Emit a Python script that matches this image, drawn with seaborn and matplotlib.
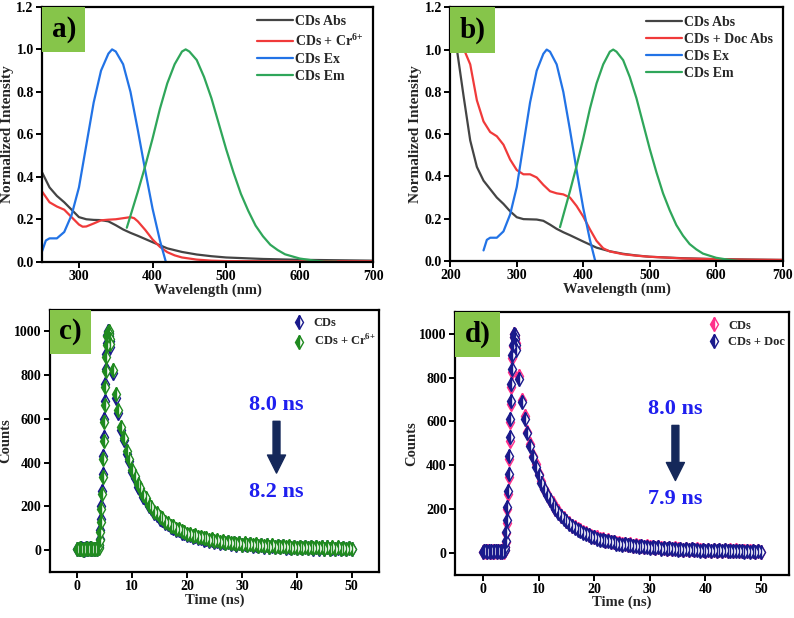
import numpy as np
import matplotlib
matplotlib.use("Agg")
import matplotlib.pyplot as plt
import seaborn as sns
from matplotlib.lines import Line2D
from matplotlib.patches import Rectangle

sns.set_style("ticks")
plt.rcParams['font.family'] = ['Liberation Serif', 'DejaVu Serif']
plt.rcParams['font.weight'] = 'bold'
plt.rcParams['axes.labelweight'] = 'bold'
plt.rcParams['mathtext.fontset'] = 'custom'
plt.rcParams['mathtext.rm'] = 'Liberation Serif:bold'
plt.rcParams['mathtext.bf'] = 'Liberation Serif:bold'

# ---- spectra (panel a / b) ----
wl_abs_a = [250, 260, 270, 280, 290, 300, 310, 320, 330, 340, 350, 360, 370, 380, 390, 400,
            420, 440, 460, 480, 500, 550, 600, 650, 700]
abs_cds_a = [0.42, 0.35, 0.31, 0.28, 0.245, 0.21, 0.2, 0.197, 0.196, 0.19, 0.172, 0.152, 0.136,
             0.122, 0.107, 0.092, 0.063, 0.046, 0.034, 0.026, 0.02, 0.013, 0.009, 0.007, 0.005]

wl_cr = [250, 260, 270, 280, 290, 300, 305, 310, 320, 330, 340, 350, 360, 370, 375, 380, 390,
         400, 410, 420, 430, 440, 460, 480, 500, 600, 700]
abs_cds_cr = [0.33, 0.28, 0.26, 0.245, 0.21, 0.175, 0.165, 0.166, 0.18, 0.195, 0.198, 0.2, 0.205,
              0.21, 0.205, 0.19, 0.15, 0.105, 0.07, 0.045, 0.03, 0.02, 0.01, 0.005, 0.003, 0.002, 0.002]

wl_abs_b = [210, 220, 230, 240, 250, 260, 270, 280, 290, 300, 310, 320, 330, 340, 350, 360, 370,
            380, 390, 400, 420, 440, 460, 480, 500, 550, 600, 650, 700]
abs_cds_b = [1.0, 0.78, 0.57, 0.445, 0.38, 0.34, 0.3, 0.27, 0.235, 0.207, 0.198, 0.197, 0.196,
             0.19, 0.172, 0.152, 0.136, 0.122, 0.107, 0.092, 0.063, 0.046, 0.034, 0.026, 0.02,
             0.013, 0.009, 0.007, 0.005]

wl_doc = [200, 210, 222, 230, 240, 250, 260, 270, 280, 290, 300, 310, 320, 330, 340, 350, 360,
          370, 380, 390, 400, 410, 420, 430, 440, 460, 480, 500, 550, 600, 650, 700]
abs_cds_doc = [1.0, 1.0, 0.99, 0.93, 0.76, 0.66, 0.61, 0.59, 0.55, 0.48, 0.43, 0.41, 0.41, 0.395,
               0.36, 0.33, 0.32, 0.315, 0.3, 0.26, 0.21, 0.15, 0.095, 0.06, 0.045, 0.032, 0.025,
               0.02, 0.012, 0.008, 0.006, 0.005]

wl_ex = [250, 255, 260, 270, 280, 290, 300, 310, 320, 330, 340, 345, 350, 360, 370, 380, 390,
         400, 410, 418]
ex_cds = [0.05, 0.1, 0.11, 0.11, 0.14, 0.22, 0.35, 0.55, 0.75, 0.9, 0.98, 1.0, 0.99, 0.93, 0.8,
          0.62, 0.43, 0.25, 0.1, 0.0]

wl_em = [365, 380, 390, 400, 410, 420, 430, 440, 445, 450, 460, 470, 480, 490, 500, 510, 520,
         530, 540, 550, 560, 570, 580, 600, 620, 635, 650]
em_cds = [0.16, 0.33, 0.45, 0.58, 0.72, 0.84, 0.93, 0.99, 1.0, 0.99, 0.95, 0.87, 0.77, 0.65, 0.53,
          0.42, 0.32, 0.24, 0.17, 0.12, 0.08, 0.055, 0.035, 0.015, 0.005, 0.0, 0.0]

# ---- TCSPC decays (panel c / d) ----
t_base = [0, 0.25, 0.5, 0.75, 1, 1.25, 1.5, 1.75, 2, 2.25, 2.5, 2.75, 3, 3.25, 3.5, 3.75]
t_rise = [3.9, 4.0, 4.1, 4.2, 4.3, 4.4, 4.5, 4.6, 4.7, 4.8, 4.9, 5.0, 5.1, 5.2, 5.3, 5.4, 5.5,
          5.6, 5.7, 5.8, 5.9, 6.0]
t_fall = [6.5, 7, 7.5, 8, 8.5, 9, 9.5, 10, 10.5, 11, 11.5, 12, 12.5, 13, 13.5, 14, 14.5, 15,
          15.5, 16, 16.5, 17, 17.5, 18, 18.5, 19, 19.5, 20]
t_tail = [20.5, 21, 21.5, 22, 22.5, 23, 23.5, 24, 24.5, 25, 25.5, 26, 26.5, 27, 27.5, 28, 28.5,
          29, 29.5, 30, 30.5, 31, 31.5, 32, 32.5, 33, 33.5, 34, 34.5, 35, 35.5, 36, 36.5, 37,
          37.5, 38, 38.5, 39, 39.5, 40, 40.5, 41, 41.5, 42, 42.5, 43, 43.5, 44, 44.5, 45, 45.5,
          46, 46.5, 47, 47.5, 48, 48.5, 49, 49.5, 50]
t_ns = t_base + t_rise + t_fall + t_tail

# c) CDs
cds_c_base = [4, 7, 3, 9, 5, 2, 8, 6, 3, 10, 5, 4, 7, 3, 6, 9]
cds_c_rise = [12, 25, 50, 90, 140, 200, 270, 350, 430, 515, 600, 680, 760, 830, 895, 945, 985,
              1000, 995, 980, 955, 930]
cds_c_fall = [812, 694, 628, 549, 502, 440, 407, 355, 331, 290, 273, 241, 228, 200, 191, 168,
              162, 143, 138, 122, 119, 105, 103, 92, 90, 80, 79, 70]
cds_c_tail = [71, 61, 64, 54, 57, 48, 52, 43, 46, 38, 42, 34, 39, 31, 35, 28, 32, 25, 30, 23,
              28, 21, 26, 19, 24, 17, 22, 15, 21, 14, 19, 13, 18, 12, 17, 11, 16, 10, 15, 9,
              15, 8, 14, 8, 13, 7, 13, 7, 12, 6, 12, 6, 11, 5, 11, 5, 11, 4, 10, 4]
# c) CDs + Cr6+
cr_c_base = [6, 3, 8, 5, 2, 7, 4, 9, 5, 3, 8, 6, 4, 7, 5, 8]
cr_c_rise = [10, 22, 45, 82, 130, 188, 255, 335, 415, 500, 585, 665, 745, 818, 885, 938, 980,
             998, 1000, 988, 965, 942]
cr_c_fall = [825, 712, 640, 565, 512, 455, 418, 368, 340, 302, 283, 250, 236, 208, 199, 175,
             170, 150, 145, 128, 125, 111, 108, 98, 96, 86, 84, 75]
cr_c_tail = [74, 66, 68, 59, 60, 53, 55, 48, 49, 42, 45, 38, 41, 34, 37, 31, 34, 28, 32, 25,
             30, 23, 28, 21, 26, 19, 24, 17, 22, 16, 21, 14, 19, 13, 18, 12, 17, 11, 16, 10,
             16, 9, 15, 9, 14, 8, 14, 8, 13, 7, 13, 7, 12, 6, 12, 6, 11, 5, 11, 5]
# d) CDs
cds_d_base = [5, 8, 3, 6, 9, 4, 2, 7, 5, 8, 3, 6, 9, 4, 7, 5]
cds_d_rise = [11, 24, 48, 88, 138, 198, 268, 348, 428, 512, 598, 678, 758, 828, 892, 944, 984,
              1000, 996, 982, 958, 934]
cds_d_fall = [806, 698, 624, 552, 498, 443, 404, 358, 328, 293, 270, 243, 226, 202, 189, 170,
              160, 145, 137, 124, 118, 107, 102, 93, 89, 81, 78, 71]
cds_d_tail = [70, 62, 63, 55, 56, 49, 51, 44, 45, 39, 41, 35, 38, 32, 34, 29, 31, 26, 29, 24,
              27, 22, 25, 20, 23, 18, 21, 16, 20, 15, 18, 14, 17, 13, 16, 12, 15, 11, 14, 10,
              14, 9, 13, 9, 12, 8, 12, 8, 11, 7, 11, 7, 10, 6, 10, 6, 10, 5, 9, 5]
# d) CDs + Doc
doc_d_base = [4, 6, 9, 3, 7, 5, 8, 2, 6, 9, 4, 7, 3, 8, 5, 6]
doc_d_rise = [14, 28, 55, 96, 148, 210, 282, 362, 442, 528, 612, 692, 770, 840, 902, 950, 988,
              1000, 993, 976, 950, 925]
doc_d_fall = [792, 690, 610, 548, 486, 438, 392, 355, 318, 290, 262, 241, 218, 200, 182, 169,
              154, 143, 131, 122, 113, 106, 98, 92, 85, 80, 74, 70]
doc_d_tail = [65, 60, 58, 53, 52, 47, 47, 42, 42, 37, 39, 34, 35, 31, 32, 28, 29, 25, 27, 23,
              26, 21, 24, 19, 22, 17, 20, 15, 19, 14, 17, 13, 16, 12, 15, 11, 14, 10, 13, 9,
              13, 8, 12, 8, 11, 7, 11, 7, 10, 6, 10, 6, 10, 5, 9, 5, 9, 4, 9, 4]

cnt_cds_c = cds_c_base + cds_c_rise + cds_c_fall + cds_c_tail
cnt_cr_c = cr_c_base + cr_c_rise + cr_c_fall + cr_c_tail
cnt_cds_d = cds_d_base + cds_d_rise + cds_d_fall + cds_d_tail
cnt_doc_d = doc_d_base + doc_d_rise + doc_d_fall + doc_d_tail

c_gray = '#444444'
c_red = '#f03a3a'
c_blue = '#2273e6'
c_green = '#2fa65a'
c_navy = '#1a1a8c'
c_dgreen = '#1f8a1f'
c_pink = '#ff2f8a'
c_arrow = '#15285a'
c_box = '#86c54a'
c_txt = '#1f1fef'

fig = plt.figure(figsize=(7.94, 6.18), dpi=100)
ax_a = fig.add_axes([0.0531, 0.5765, 0.4171, 0.4123])
ax_b = fig.add_axes([0.5671, 0.5777, 0.4187, 0.4105])
ax_c = fig.add_axes([0.0628, 0.0746, 0.4147, 0.4244])
ax_d = fig.add_axes([0.5733, 0.0702, 0.4202, 0.4248])


def style_axes(ax):
    for s in ax.spines.values():
        s.set_linewidth(1.6)
        s.set_color('black')
    ax.tick_params(direction='out', length=4, width=1.4, labelsize=10, pad=2, colors='black')
    for lab in ax.get_xticklabels() + ax.get_yticklabels():
        lab.set_fontweight('bold')


def add_tag(ax, tag, w, h):
    ax.add_patch(Rectangle((0, 1 - h), w, h, transform=ax.transAxes, facecolor=c_box,
                           edgecolor='none', zorder=5, clip_on=False))
    ax.text(w / 2, 1 - h / 2, tag, transform=ax.transAxes, ha='center', va='center',
            fontsize=21, fontweight='bold', color='black', zorder=6)


def spectra(ax, wl_abs, abs_cds, wl2, abs2, label2, xlim, xticks):
    sns.lineplot(x=wl_abs, y=abs_cds, ax=ax, color=c_gray, lw=1.6, label='CDs Abs', sort=False)
    sns.lineplot(x=wl2, y=abs2, ax=ax, color=c_red, lw=1.6, label=label2, sort=False)
    sns.lineplot(x=wl_ex, y=ex_cds, ax=ax, color=c_blue, lw=1.6, label='CDs Ex', sort=False)
    sns.lineplot(x=wl_em, y=em_cds, ax=ax, color=c_green, lw=1.6, label='CDs Em', sort=False)
    ax.set_xlim(*xlim)
    ax.set_ylim(0, 1.2)
    ax.set_xticks(xticks)
    ax.set_yticks([0, 0.2, 0.4, 0.6, 0.8, 1.0, 1.2])
    ax.set_yticklabels(['0.0', '0.2', '0.4', '0.6', '0.8', '1.0', '1.2'])
    ax.set_xlabel('Wavelength (nm)', fontsize=10.5, labelpad=0)
    ax.set_ylabel('Normalized Intensity', fontsize=11, labelpad=2)
    ax.legend(loc='upper right', bbox_to_anchor=(0.984, 0.984), frameon=False,
              handlelength=2.6, handletextpad=0.15, labelspacing=0.3, borderaxespad=0.2,
              borderpad=0.1, prop={'weight': 'bold', 'size': 10})
    style_axes(ax)


def decay(ax, s1, col1, lab1, s2, col2, lab2, lt1, lt2):
    for y, col in ((s1, col1), (s2, col2)):
        sns.lineplot(x=t_ns, y=y, ax=ax, color=col, linestyle='', marker='d', markersize=7,
                     fillstyle='left', markerfacecoloralt='white', markeredgewidth=1.0,
                     markeredgecolor=col, sort=False)
    ax.set_xlim(-5, 55)
    ax.set_ylim(-100, 1100)
    ax.set_xticks([0, 10, 20, 30, 40, 50])
    ax.set_yticks([0, 200, 400, 600, 800, 1000])
    ax.set_xlabel('Time (ns)', fontsize=10.5, labelpad=0)
    ax.set_ylabel('Counts', fontsize=10.5, labelpad=1)
    handles = [Line2D([], [], color=c, linestyle='', marker='d', markersize=7, fillstyle='left',
                      markerfacecoloralt='white', markeredgecolor=c) for c in (col1, col2)]
    ax.legend(handles, [lab1, lab2], loc='upper right', bbox_to_anchor=(1.0, 0.985),
              frameon=False, prop={'weight': 'bold', 'size': 9}, handlelength=1.2,
              handletextpad=0.55, labelspacing=0.35, borderaxespad=0.1, borderpad=0.2)
    ax.text(lt1[0], lt1[1], lt1[2], fontsize=16, fontweight='bold', color=c_txt,
            ha='center', va='center')
    ax.text(lt2[0], lt2[1], lt2[2], fontsize=16, fontweight='bold', color=c_txt,
            ha='center', va='center')
    ax.annotate('', xy=(lt1[0], lt2[1] + 85), xytext=(lt1[0], lt1[1] - 75),
                arrowprops=dict(facecolor=c_arrow, edgecolor=c_arrow, width=5, headwidth=13,
                                headlength=13))
    style_axes(ax)


spectra(ax_a, wl_abs_a, abs_cds_a, wl_cr, abs_cds_cr, r'CDs + Cr$^{6{+}}$', (250, 700),
        [300, 400, 500, 600, 700])
spectra(ax_b, wl_abs_b, abs_cds_b, wl_doc, abs_cds_doc, 'CDs + Doc Abs', (200, 700),
        [200, 300, 400, 500, 600, 700])
add_tag(ax_a, 'a)', 0.13, 0.176)
add_tag(ax_b, 'b)', 0.135, 0.18)

decay(ax_c, cnt_cds_c, c_navy, 'CDs', cnt_cr_c, c_dgreen, r'CDs + Cr$^{6{+}}$',
      (36.3, 664, '8.0 ns'), (36.3, 267, '8.2 ns'))
decay(ax_d, cnt_cds_d, c_pink, 'CDs', cnt_doc_d, c_navy, 'CDs + Doc',
      (34.6, 657, '8.0 ns'), (34.6, 245, '7.9 ns'))
add_tag(ax_c, 'c)', 0.125, 0.17)
add_tag(ax_d, 'd)', 0.135, 0.17)

fig.savefig('out.png', dpi=100)
